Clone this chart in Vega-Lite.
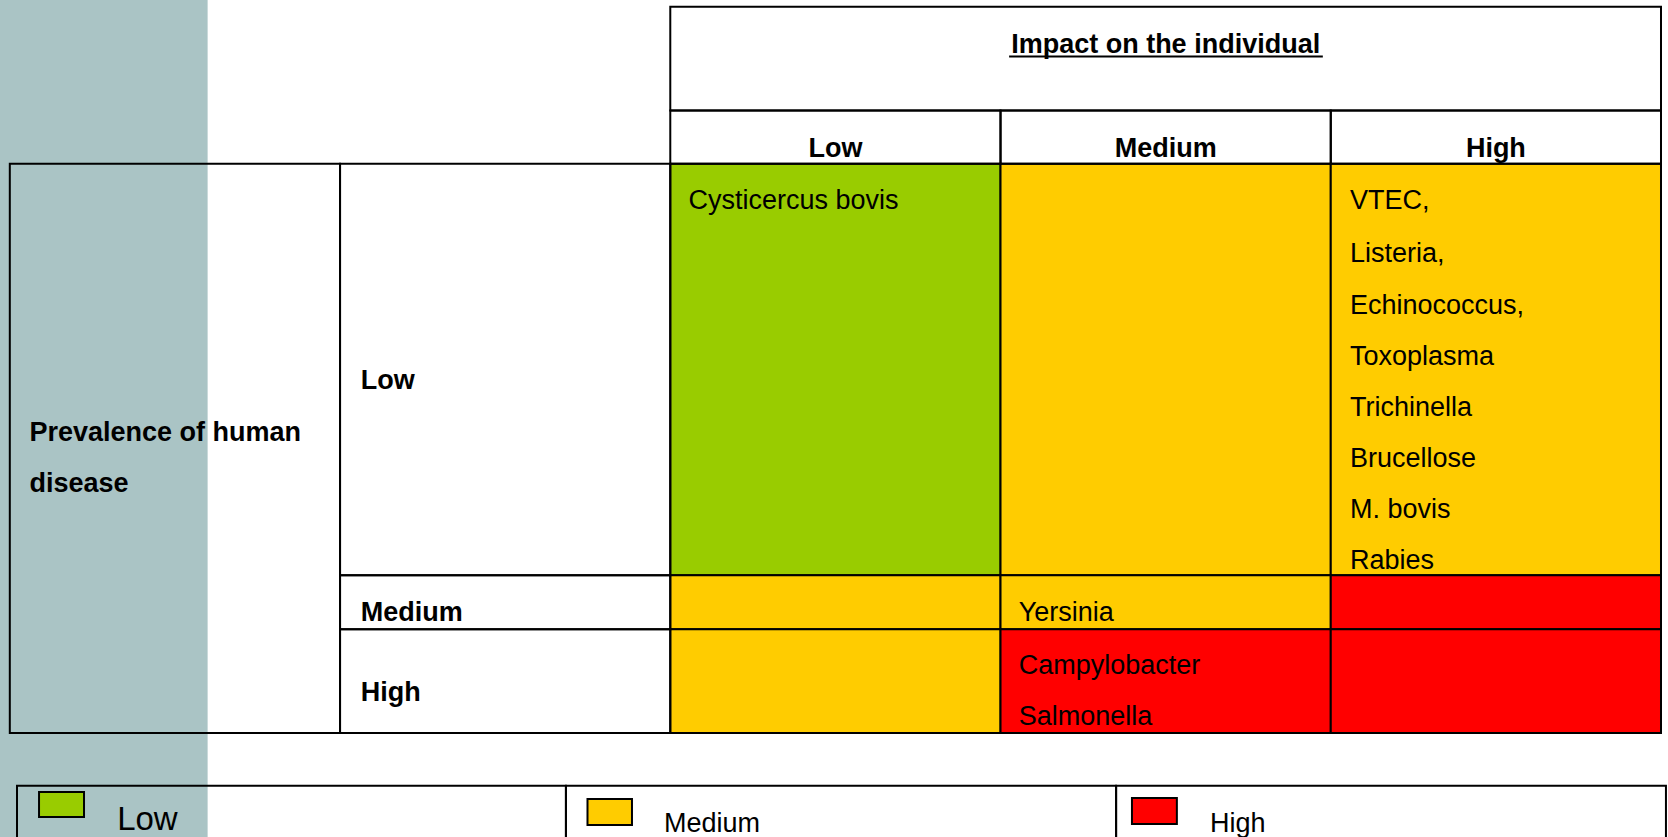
{
  "$schema": "https://vega.github.io/schema/vega-lite/v6.json",
  "width": 1668,
  "height": 837,
  "autosize": {"type": "none"},
  "padding": 0,
  "background": "white",
  "config": {"view": {"stroke": null}, "font": "Liberation Sans"},
  "datasets": {
    "band": [{"x": -0.03, "x2": 0.599, "y": -0.129, "y2": 16.004}],
    "frames": [
      {"part": "Impact header", "x": 2, "x2": 5, "y": 0, "y2": 2},
      {"part": "Impact Low", "x": 2, "x2": 3, "y": 2, "y2": 3.025},
      {"part": "Impact Medium", "x": 3, "x2": 4, "y": 2, "y2": 3.025},
      {"part": "Impact High", "x": 4, "x2": 5, "y": 2, "y2": 3.025},
      {"part": "Prevalence", "x": 0, "x2": 1, "y": 3.025, "y2": 14},
      {"part": "Prevalence Low", "x": 1, "x2": 2, "y": 3.025, "y2": 10.96},
      {"part": "Prevalence Medium", "x": 1, "x2": 2, "y": 10.96, "y2": 12},
      {"part": "Prevalence High", "x": 1, "x2": 2, "y": 12, "y2": 14},
      {"part": "Legend Low", "x": 0.0218, "x2": 1.684, "y": 15.016, "y2": 16.6},
      {"part": "Legend Medium", "x": 1.684, "x2": 3.35, "y": 15.016, "y2": 16.6},
      {"part": "Legend High", "x": 3.35, "x2": 5.015, "y": 15.016, "y2": 16.6}
    ],
    "risk": [
      {"impact": "Low", "prevalence": "Low", "level": "Low", "x": 2, "x2": 3, "y": 3.025, "y2": 10.96},
      {"impact": "Medium", "prevalence": "Low", "level": "Medium", "x": 3, "x2": 4, "y": 3.025, "y2": 10.96},
      {"impact": "High", "prevalence": "Low", "level": "Medium", "x": 4, "x2": 5, "y": 3.025, "y2": 10.96},
      {"impact": "Low", "prevalence": "Medium", "level": "Medium", "x": 2, "x2": 3, "y": 10.96, "y2": 12},
      {"impact": "Medium", "prevalence": "Medium", "level": "Medium", "x": 3, "x2": 4, "y": 10.96, "y2": 12},
      {"impact": "High", "prevalence": "Medium", "level": "High", "x": 4, "x2": 5, "y": 10.96, "y2": 12},
      {"impact": "Low", "prevalence": "High", "level": "Medium", "x": 2, "x2": 3, "y": 12, "y2": 14},
      {"impact": "Medium", "prevalence": "High", "level": "High", "x": 3, "x2": 4, "y": 12, "y2": 14},
      {"impact": "High", "prevalence": "High", "level": "High", "x": 4, "x2": 5, "y": 12, "y2": 14},
      {"impact": "legend", "prevalence": "legend", "level": "Low", "x": 0.0885, "x2": 0.2247, "y": 15.137, "y2": 15.619},
      {"impact": "legend", "prevalence": "legend", "level": "Medium", "x": 1.7493, "x2": 1.884, "y": 15.272, "y2": 15.772},
      {"impact": "legend", "prevalence": "legend", "level": "High", "x": 3.398, "x2": 3.534, "y": 15.253, "y2": 15.754}
    ],
    "labels": [
      {"text": "Impact on the individual", "kind": "colhead", "x": 3.5, "y": 0.898},
      {"text": "Low", "kind": "colhead", "x": 2.5, "y": 2.89},
      {"text": "Medium", "kind": "colhead", "x": 3.5, "y": 2.89},
      {"text": "High", "kind": "colhead", "x": 4.5, "y": 2.89},
      {"text": "Prevalence of human", "kind": "rowhead", "x": 0.0596, "y": 8.37},
      {"text": "disease", "kind": "rowhead", "x": 0.0596, "y": 9.35},
      {"text": "Low", "kind": "rowhead", "x": 1.063, "y": 7.37},
      {"text": "Medium", "kind": "rowhead", "x": 1.063, "y": 11.84},
      {"text": "High", "kind": "rowhead", "x": 1.063, "y": 13.38},
      {"text": "Cysticercus bovis", "kind": "cell", "x": 2.055, "y": 3.909},
      {"text": "VTEC,", "kind": "cell", "x": 4.058, "y": 3.909},
      {"text": "Listeria,", "kind": "cell", "x": 4.058, "y": 4.913},
      {"text": "Echinococcus,", "kind": "cell", "x": 4.058, "y": 5.918},
      {"text": "Toxoplasma", "kind": "cell", "x": 4.058, "y": 6.903},
      {"text": "Trichinella", "kind": "cell", "x": 4.058, "y": 7.888},
      {"text": "Brucellose", "kind": "cell", "x": 4.058, "y": 8.871},
      {"text": "M. bovis", "kind": "cell", "x": 4.058, "y": 9.855},
      {"text": "Rabies", "kind": "cell", "x": 4.058, "y": 10.841},
      {"text": "Yersinia", "kind": "cell", "x": 3.055, "y": 11.84},
      {"text": "Campylobacter", "kind": "cell", "x": 3.055, "y": 12.86},
      {"text": "Salmonella", "kind": "cell", "x": 3.055, "y": 13.85},
      {"text": "Low", "kind": "legendbig", "x": 0.325, "y": 15.87},
      {"text": "Medium", "kind": "cell", "x": 1.981, "y": 15.9},
      {"text": "High", "kind": "cell", "x": 3.634, "y": 15.9}
    ],
    "underline": [{"x": 3.026, "x2": 3.976, "y": 0.96}]
  },
  "encoding": {
    "x": {"field": "x", "type": "quantitative", "scale": {"domain": [-0.0297, 5.0212], "nice": false, "zero": false}, "axis": null},
    "y": {"field": "y", "type": "quantitative", "scale": {"domain": [-0.129, 16.004], "nice": false, "zero": false, "reverse": true}, "axis": null}
  },
  "layer": [
    {
      "data": {"name": "band"},
      "mark": {"type": "rect", "fill": "#AAC4C5", "stroke": null},
      "encoding": {"x2": {"field": "x2"}, "y2": {"field": "y2"}}
    },
    {
      "data": {"name": "risk"},
      "mark": {"type": "rect", "stroke": "black", "strokeWidth": 2, "fillOpacity": 1},
      "encoding": {
        "x2": {"field": "x2"},
        "y2": {"field": "y2"},
        "fill": {"field": "level", "type": "nominal", "scale": {"domain": ["Low", "Medium", "High"], "range": ["#99CC00", "#FFCC00", "#FF0000"]}, "legend": null}
      }
    },
    {
      "data": {"name": "frames"},
      "mark": {"type": "rect", "fill": null, "fillOpacity": 0, "stroke": "black", "strokeWidth": 2},
      "encoding": {"x2": {"field": "x2"}, "y2": {"field": "y2"}}
    },
    {
      "data": {"name": "underline"},
      "mark": {"type": "rule", "stroke": "black", "strokeWidth": 2},
      "encoding": {"x2": {"field": "x2"}}
    },
    {
      "data": {"name": "labels"},
      "transform": [{"filter": "datum.kind === 'colhead'"}],
      "mark": {"type": "text", "font": "Liberation Sans", "fontWeight": "bold", "fontSize": 27, "align": "center", "baseline": "alphabetic", "color": "black"},
      "encoding": {"text": {"field": "text"}}
    },
    {
      "data": {"name": "labels"},
      "transform": [{"filter": "datum.kind === 'rowhead'"}],
      "mark": {"type": "text", "font": "Liberation Sans", "fontWeight": "bold", "fontSize": 27, "align": "left", "baseline": "alphabetic", "color": "black"},
      "encoding": {"text": {"field": "text"}}
    },
    {
      "data": {"name": "labels"},
      "transform": [{"filter": "datum.kind === 'cell'"}],
      "mark": {"type": "text", "font": "Liberation Sans", "fontWeight": "normal", "fontSize": 27, "align": "left", "baseline": "alphabetic", "color": "black"},
      "encoding": {"text": {"field": "text"}}
    },
    {
      "data": {"name": "labels"},
      "transform": [{"filter": "datum.kind === 'legendbig'"}],
      "mark": {"type": "text", "font": "Liberation Sans", "fontWeight": "normal", "fontSize": 33, "align": "left", "baseline": "alphabetic", "color": "black"},
      "encoding": {"text": {"field": "text"}}
    }
  ]
}
